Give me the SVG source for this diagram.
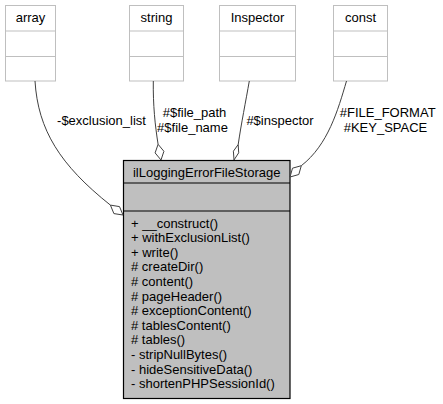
<svg xmlns="http://www.w3.org/2000/svg" width="443" height="404" viewBox="0 0 443 404">
<style>
text{font-family:"Liberation Sans",Arial,Helvetica,sans-serif;font-size:13px;fill:#000}
.c{text-anchor:middle}
.ext rect{fill:#fff;stroke:#bfbfbf;stroke-width:1}
.ext line{stroke:#bfbfbf;stroke-width:1}
.main rect{fill:#bfbfbf;stroke:#000;stroke-width:1.2}
.main line{stroke:#000;stroke-width:1.2}
.edge{fill:none;stroke:#404040;stroke-width:1}
.dia{fill:#fff;stroke:#404040;stroke-width:1}
</style>
<g id="node-array" class="ext">
<rect x="5.5" y="5.5" width="50" height="75.5"/>
<line x1="5.5" y1="31" x2="55.5" y2="31"/>
<line x1="5.5" y1="56.5" x2="55.5" y2="56.5"/>
<text class="c" x="30.5" y="22">array</text>
</g>
<g id="node-string" class="ext">
<rect x="129.5" y="5.5" width="54" height="75.5"/>
<line x1="129.5" y1="31" x2="183.5" y2="31"/>
<line x1="129.5" y1="56.5" x2="183.5" y2="56.5"/>
<text class="c" x="156.5" y="22">string</text>
</g>
<g id="node-inspector" class="ext">
<rect x="219.5" y="5.5" width="76" height="75.5"/>
<line x1="219.5" y1="31" x2="295.5" y2="31"/>
<line x1="219.5" y1="56.5" x2="295.5" y2="56.5"/>
<text class="c" x="257.5" y="22">Inspector</text>
</g>
<g id="node-const" class="ext">
<rect x="333.5" y="5.5" width="54" height="75.5"/>
<line x1="333.5" y1="31" x2="387.5" y2="31"/>
<line x1="333.5" y1="56.5" x2="387.5" y2="56.5"/>
<text class="c" x="360.5" y="22">const</text>
</g>
<g id="node-main" class="main">
<rect x="123.5" y="160.5" width="166.5" height="238"/>
<line x1="123.5" y1="183" x2="290" y2="183"/>
<line x1="123.5" y1="211" x2="290" y2="211"/>
<text class="c" x="206.7" y="176.5">ilLoggingErrorFileStorage</text>
<text x="131" y="227.5">+ __construct()</text>
<text x="131" y="242.1">+ withExclusionList()</text>
<text x="131" y="256.7">+ write()</text>
<text x="131" y="271.3"># createDir()</text>
<text x="131" y="285.9"># content()</text>
<text x="131" y="300.5"># pageHeader()</text>
<text x="131" y="315.1"># exceptionContent()</text>
<text x="131" y="329.7"># tablesContent()</text>
<text x="131" y="344.3"># tables()</text>
<text x="131" y="358.9">- stripNullBytes()</text>
<text x="131" y="373.5">- hideSensitiveData()</text>
<text x="131" y="388.1">- shortenPHPSessionId()</text>
</g>
<g id="connectors">
<path class="edge" d="M35,81 C38,130 60,165 110.4,205.1"/>
<polygon class="dia" points="123,215 113.9,213.6 110.4,205.1 119.5,206.6"/>
<text class="c" x="101.5" y="124.5">-$exclusion_list</text>
<path class="edge" d="M153.3,81 C153,105 155,125 158.1,144.3"/>
<polygon class="dia" points="161,160 155.1,152.9 158.1,144.3 163.9,151.3"/>
<text class="c" x="194.5" y="117">#$file_path</text>
<text class="c" x="192.5" y="131.6">#$file_name</text>
<path class="edge" d="M249.3,81 C246,100 241,125 238.2,144.5"/>
<polygon class="dia" points="234,160 233.4,151.2 238.2,144.5 238.7,152.8"/>
<text class="c" x="280" y="124.5">#$inspector</text>
<path class="edge" d="M346.5,81 C338,110 328,145 301.3,165.7"/>
<polygon class="dia" points="290,177 292.5,168.2 301.3,165.7 298.8,174.5"/>
<text class="c" x="387.7" y="117">#FILE_FORMAT</text>
<text class="c" x="385.5" y="131.6">#KEY_SPACE</text>
</g>
</svg>
